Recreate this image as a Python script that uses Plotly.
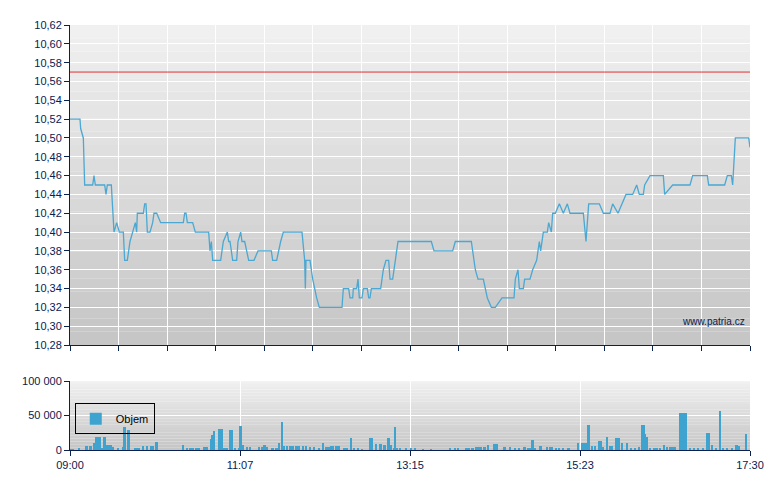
import plotly.graph_objects as go
from plotly.subplots import make_subplots

# minutes after 09:00 and price
price_min = [0, 7.5, 8, 10, 11, 17, 18, 19, 26, 27, 28, 31, 33, 35, 37, 40, 41, 43, 45, 47, 49, 50,
             50.5, 55, 56, 57, 58, 60, 62, 63, 65, 68, 85, 86, 87, 88, 92, 94, 104, 105, 106, 107,
             113, 115, 118, 119, 120, 122, 125, 126, 128, 129, 131, 134, 138, 141, 151, 152, 155,
             158, 160, 174, 176, 176.5, 177, 180, 182, 185, 187, 204, 205, 209, 210, 212, 212.5,
             215, 216, 217, 219, 220, 223, 224, 225, 226, 233, 235, 237, 239, 240, 242, 244, 246,
             271, 273, 287, 289, 301, 304, 306, 310, 313, 316, 319, 324, 333, 334, 336, 337, 340,
             341, 345, 347, 350, 352, 353, 355, 358, 359, 361, 362, 364, 367, 370, 373, 375, 385,
             387, 389, 397, 400, 405, 407, 411, 414, 417, 422, 425, 427, 430, 431, 435, 445, 446,
             452, 465, 467, 478, 479, 491, 493, 496, 497, 499, 509, 510]
price = [10.52, 10.52, 10.51, 10.50, 10.45, 10.45, 10.46, 10.45, 10.45, 10.44, 10.45, 10.45, 10.40,
         10.41, 10.40, 10.40, 10.37, 10.37, 10.39, 10.40, 10.41, 10.40, 10.42, 10.42, 10.43, 10.43,
         10.40, 10.40, 10.41, 10.42, 10.42, 10.41, 10.41, 10.42, 10.42, 10.41, 10.41, 10.40, 10.40,
         10.38, 10.39, 10.37, 10.37, 10.39, 10.40, 10.39, 10.39, 10.37, 10.37, 10.39, 10.40, 10.39,
         10.39, 10.37, 10.37, 10.38, 10.38, 10.37, 10.37, 10.39, 10.40, 10.40, 10.37, 10.34, 10.37,
         10.37, 10.35, 10.33, 10.32, 10.32, 10.34, 10.34, 10.33, 10.33, 10.34, 10.34, 10.35, 10.33,
         10.33, 10.34, 10.34, 10.33, 10.33, 10.34, 10.34, 10.36, 10.37, 10.37, 10.35, 10.35, 10.37,
         10.39, 10.39, 10.38, 10.38, 10.39, 10.39, 10.36, 10.35, 10.35, 10.33, 10.32, 10.32, 10.33,
         10.33, 10.35, 10.36, 10.34, 10.34, 10.35, 10.35, 10.36, 10.37, 10.39, 10.38, 10.40, 10.40,
         10.41, 10.40, 10.42, 10.42, 10.43, 10.42, 10.43, 10.42, 10.42, 10.39, 10.43, 10.43, 10.42,
         10.42, 10.43, 10.42, 10.43, 10.44, 10.44, 10.45, 10.44, 10.44, 10.45, 10.46, 10.46, 10.44,
         10.45, 10.45, 10.46, 10.46, 10.45, 10.45, 10.46, 10.46, 10.45, 10.50, 10.50, 10.49]

prev_close = 10.57

vol_min = [1, 2, 7, 12, 13, 15, 16, 18, 19.5, 21, 22.5, 24, 26, 28, 29.5, 30, 31, 32, 36, 40, 41, 44,
           49, 50, 52, 55, 58, 61, 62, 65, 85, 88, 90, 92, 95, 97, 101, 103, 106, 107, 108, 112,
           113, 114, 116, 118, 120, 121.5, 124, 127, 128, 130, 133, 135, 142, 144, 146, 148, 152,
           155, 157, 159, 160.5, 163, 165, 167, 170, 172, 175, 177, 180, 183, 187, 190, 192, 194,
           196, 197, 200, 202, 206, 208, 211, 213, 216, 219, 225, 226.5, 229.5, 233, 236, 239, 241,
           243, 244, 245, 247.5, 252, 256, 259, 265, 271, 285, 289, 291, 297, 299, 302, 305, 307,
           308, 311, 313.5, 318, 320, 326, 330, 334, 337, 341, 344, 346, 347, 349, 353, 358, 360,
           361.5, 364.5, 367, 370, 374, 381, 384, 386, 388, 389, 391.5, 394, 397, 398, 400, 403,
           405, 406.5, 410, 412, 414, 418, 421, 424, 427, 429, 430.5, 431.5, 433, 435, 438, 440,
           442.5, 445.5, 448, 450, 452, 454, 457.5, 459, 460.5, 462, 465, 468, 471, 475, 478, 479,
           481.5, 484.5, 487.5, 490, 493, 496.5, 500, 502, 507]
volume = [1000, 1000, 3000, 6000, 6000, 6000, 6000, 10000, 18000, 18000, 18000, 3000, 18000, 7000,
          7000, 7000, 7000, 4000, 3000, 3500, 33000, 29000, 2000, 2000, 2000, 6000, 6000, 6000, 6000,
          11000, 6800, 3000, 3000, 3000, 2000, 2000, 3500, 3500, 16000, 22000, 28000, 30000, 30000,
          30000, 3000, 3000, 29000, 29000, 2000, 2000, 35000, 7000, 4000, 3500, 3500, 3500, 7000,
          4000, 3000, 3000, 10000, 41000, 5000, 5000, 5000, 5000, 5000, 5000, 5000, 5000, 4000, 4000,
          2000, 10000, 4000, 4000, 6000, 6000, 6000, 6000, 2000, 2000, 17000, 2000, 2000, 1000,
          17000, 17000, 8000, 8000, 7000, 17000, 7000, 2000, 33000, 2000, 2000, 2000, 1500, 1500,
          1000, 1000, 3000, 3000, 3000, 3000, 3000, 3000, 4500, 4500, 4500, 4000, 7000, 8000, 8000,
          4000, 4000, 2500, 2500, 4500, 2000, 3000, 14000, 2000, 5000, 4500, 4500, 4500, 2000, 2000,
          2000, 3000, 10000, 10000, 10000, 10000, 36000, 6000, 6000, 13000, 13000, 4000, 18000, 6000,
          6000, 17500, 17500, 10000, 10000, 2000, 2000, 4000, 36000, 36000, 23000, 19000, 3000, 3000,
          3000, 3000, 7000, 4000, 4000, 4000, 4000, 54000, 54000, 54000, 54000, 2000, 2000, 2000,
          2000, 25000, 25000, 7000, 2000, 56000, 2000, 2000, 1500, 7000, 6000, 23000]

time_labels = ["09:00", "11:07", "13:15", "15:23", "17:30"]
label_pos = [0, 127.5, 255, 382.5, 510]
minor_pos = [i * 510 / 14 for i in range(15)]

NAVY = "#0a2050"
fig = make_subplots(rows=2, cols=1, shared_xaxes=False, vertical_spacing=0.0,
                    row_heights=[0.75, 0.25])

# gradient background
for dom0, dom1 in [(0.247, 1.0), (0.0, 0.162)]:
    n = 24
    for i in range(n):
        t = i / (n - 1)
        c = int(0xf0 - (0xf0 - 0xc6) * (1 - t))
        fig.add_shape(type="rect", xref="paper", yref="paper", layer="below", line_width=0,
                      x0=0, x1=1, y0=dom0 + (dom1 - dom0) * i / n,
                      y1=dom0 + (dom1 - dom0) * (i + 1) / n,
                      fillcolor=f"rgb({c},{c},{c})")

fig.add_trace(go.Scatter(x=price_min, y=price, mode="lines", line=dict(color="#4aa8d2", width=1.3),
                         showlegend=False), row=1, col=1)
fig.add_trace(go.Scatter(x=[0, 510], y=[prev_close, prev_close], mode="lines",
                         line=dict(color="#e03030", width=1), showlegend=False), row=1, col=1)
fig.add_trace(go.Bar(x=vol_min, y=volume, width=1.4, name="Objem",
                     marker=dict(color="#3fa3cf", line=dict(width=0))), row=2, col=1)

axis_common = dict(showline=True, linecolor=NAVY, linewidth=1, ticks="outside", ticklen=5,
                   tickcolor=NAVY, tickfont=dict(family="Liberation Sans", size=11, color=NAVY),
                   gridcolor="white", gridwidth=1, zeroline=False)
fig.update_xaxes(axis_common, range=[0, 510], tickvals=minor_pos, showticklabels=False, row=1, col=1)
fig.update_xaxes(axis_common, range=[0, 510], tickvals=label_pos, ticktext=time_labels, row=2, col=1)
fig.update_yaxes(axis_common, range=[10.28, 10.62], dtick=0.02, tickformat=".2f", row=1, col=1)
fig.update_yaxes(axis_common, range=[0, 100000], tickvals=[0, 50000, 100000], tickformat=",d",
                 row=2, col=1)
fig.update_layout(yaxis=dict(domain=[0.247, 1.0]), yaxis2=dict(domain=[0.0, 0.162]))

fig.add_annotation(text="www.patria.cz", xref="paper", yref="paper", x=0.995, y=0.285,
                   xanchor="right", showarrow=False,
                   font=dict(family="Liberation Sans", size=10, color=NAVY))

fig.update_layout(
    width=780, height=490, separators=", ",
    margin=dict(l=62, r=38, t=17, b=48),
    paper_bgcolor="white", plot_bgcolor="rgba(0,0,0,0)",
    bargap=0,
    legend=dict(x=0.007, y=0.11, xanchor="left", yanchor="top", bgcolor="rgba(0,0,0,0)",
                bordercolor="black", borderwidth=1, itemwidth=30, tracegroupgap=0,
                font=dict(family="Liberation Sans", size=11, color="black")),
    showlegend=True,
)

fig.write_html("out.html")
